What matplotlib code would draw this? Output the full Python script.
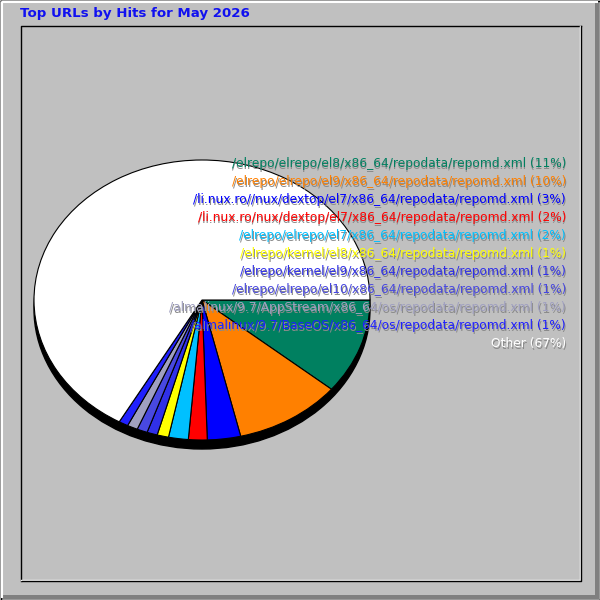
import matplotlib
matplotlib.use("Agg")
import matplotlib.pyplot as plt
from matplotlib.patches import Rectangle, Ellipse

# data (percent of hits)
urls = [
    "/elrepo/elrepo/el8/x86_64/repodata/repomd.xml",
    "/elrepo/elrepo/el9/x86_64/repodata/repomd.xml",
    "/li.nux.ro//nux/dextop/el7/x86_64/repodata/repomd.xml",
    "/li.nux.ro/nux/dextop/el7/x86_64/repodata/repomd.xml",
    "/elrepo/elrepo/el7/x86_64/repodata/repomd.xml",
    "/elrepo/kernel/el8/x86_64/repodata/repomd.xml",
    "/elrepo/kernel/el9/x86_64/repodata/repomd.xml",
    "/elrepo/elrepo/el10/x86_64/repodata/repomd.xml",
    "/almalinux/9.7/AppStream/x86_64/os/repodata/repomd.xml",
    "/almalinux/9.7/BaseOS/x86_64/os/repodata/repomd.xml",
    "Other",
]
percents = [11.0, 10.3, 3.2, 1.8, 1.9, 1.1, 1.0, 1.0, 1.0, 0.9, 66.8]
colors = ["#008060", "#FF8000", "#0000FF", "#FF0000", "#00C0FF", "#FFFF00",
          "#3030E8", "#4848E0", "#A0A0C0", "#2020FF", "#FFFFFF"]
title = "Top URLs by Hits for May 2026"

W = 600
fig = plt.figure(figsize=(6, 6), dpi=100)
fig.patch.set_facecolor("#C0C0C0")

# pie, drawn as an ellipse with a black rim underneath
cx, cy, rx, ry, depth = 202, 300, 168, 140, 9
pax = fig.add_axes([(cx - rx) / W, 1 - (cy + ry) / W, 2 * rx / W, 2 * ry / W])
pax.add_patch(Ellipse((0, -2 * depth / (2 * ry)), 2, 2, facecolor="black",
                      edgecolor="black", clip_on=False, zorder=0))
wedges, _ = pax.pie(percents, colors=colors, startangle=0, counterclock=False,
                    wedgeprops=dict(edgecolor="black", linewidth=0.8))
for w in wedges:
    w.set_clip_on(False)
pax.set_aspect("auto")
pax.set_xlim(-1, 1)
pax.set_ylim(-1, 1)
pax.axis("off")

# pixel-space overlay for frame and texts
ax = fig.add_axes([0, 0, 1, 1], zorder=5)
ax.patch.set_alpha(0)
ax.set_xlim(0, W)
ax.set_ylim(W, 0)
ax.axis("off")

# outer raised frame
ax.plot([0.5, 0.5, 599.5, 599.5, 0.5], [0.5, 599.5, 599.5, 0.5, 0.5], color="black", lw=1)
ax.plot([1.5, 1.5, 597], [597, 1.5, 1.5], color="white", lw=1.5)
ax.add_patch(Rectangle((595, 2), 4, 597, color="#808080", lw=0))
ax.add_patch(Rectangle((2, 595), 597, 4, color="#808080", lw=0))

# inner sunken frame
ax.plot([20.5, 20.5, 580.5], [580.5, 25.5, 25.5], color="black", lw=1)
ax.plot([20.5, 579.5, 579.5], [579.5, 579.5, 25.5], color="white", lw=1)
ax.plot([21.5, 580.5, 580.5], [580.5, 580.5, 26], color="black", lw=1)

ax.text(20, 14, title, color="#1010F0", fontsize=9.6, fontweight="bold",
        ha="left", va="center", family="DejaVu Sans")

# legend labels, right aligned with a drop shadow
y0, step = 164, 18
for i, (u, p, c) in enumerate(zip(urls, percents, colors)):
    s = f"{u} ({round(p):d}%)"
    y = y0 + i * step
    ax.text(567, y + 1, s, color="#8a8a8a", fontsize=8.8, ha="right", va="center")
    ax.text(566, y, s, color=c, fontsize=8.8, ha="right", va="center")

fig.savefig("out.png", dpi=100, facecolor=fig.get_facecolor())
